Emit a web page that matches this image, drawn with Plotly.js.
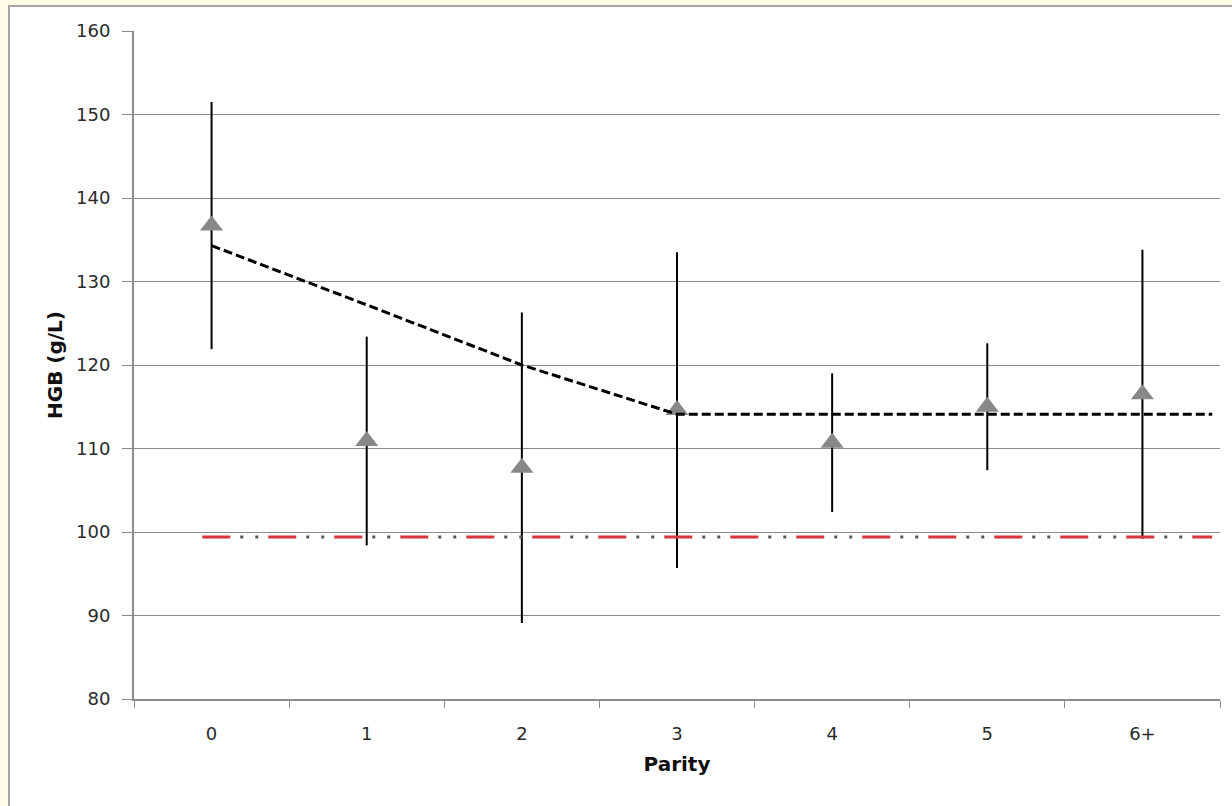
<!DOCTYPE html>
<html>
<head>
<meta charset="utf-8">
<script src="https://cdn.plot.ly/plotly-3.0.1.min.js"></script>
<style>html,body{margin:0;padding:0;background:#fdfde8;}#chart{width:1232px;height:806px;}</style>
</head>
<body>
<div id="chart"></div>
<script>
// ---- data ----
const categories = ['0', '1', '2', '3', '4', '5', '6+'];
const meanHGB = [136.7, 110.9, 107.7, 114.6, 110.7, 115.0, 116.5];
const errHGB = [14.8, 12.5, 18.6, 18.9, 8.3, 7.6, 17.3];

// fitted trend (dashed black): values at parity positions, then flat to the edge
const trendX = [0, 1, 2, 3, 6.45];
const trendY = [134.3, 127.2, 120.0, 114.1, 114.1];

// anaemia threshold (red dash-dot-dot)
const refX = [-0.06, 6.45];
const refY = [99.4, 99.4];

const yTicks = [80, 90, 100, 110, 120, 130, 140, 150, 160];

// ---- build ----
const xIdx = categories.map((c, i) => i);
const boundaries = categories.map((c, i) => i - 0.5).concat([categories.length - 0.5]);

const font = 'DejaVu Sans, Verdana, sans-serif';

const traces = [
  {
    x: xIdx, y: meanHGB, type: 'scatter', mode: 'markers',
    marker: {size: 1, opacity: 0},
    error_y: {type: 'data', array: errHGB, visible: true, color: '#000000', thickness: 2, width: 0},
    hoverinfo: 'skip'
  },
  {
    x: refX, y: refY, type: 'scatter', mode: 'lines',
    line: {color: '#d9353b', width: 3, dash: '28px,38px'},
    hoverinfo: 'skip'
  },
  {
    x: refX, y: refY, type: 'scatter', mode: 'lines',
    line: {color: '#555555', width: 3, dash: '0px,38px,3px,12px,3px,10px'},
    hoverinfo: 'skip'
  },
  {
    x: xIdx, y: meanHGB, type: 'scatter', mode: 'markers',
    marker: {symbol: 'triangle-up', size: 20, color: '#888888'}
  },
  {
    x: trendX, y: trendY, type: 'scatter', mode: 'lines',
    line: {color: '#000000', width: 3, dash: '9px,4px'},
    hoverinfo: 'skip'
  }
];

const layout = {
  width: 1232, height: 806,
  paper_bgcolor: '#fdfde8',
  plot_bgcolor: '#ffffff',
  showlegend: false,
  margin: {l: 134, r: 12, t: 31, b: 107, pad: 0},
  font: {family: font, size: 18, color: '#2a2a2a'},
  xaxis: {
    range: [-0.5, 6.5],
    tickmode: 'array', tickvals: xIdx, ticktext: categories,
    ticks: '', showgrid: false, zeroline: false,
    showline: true, linecolor: '#8c8c8c', linewidth: 2,
    ticklabelstandoff: 17,
    tickfont: {family: font, size: 18, color: '#2a2a2a'},
    minor: {tickmode: 'array', tickvals: boundaries, ticks: 'outside', ticklen: 7, tickcolor: '#8c8c8c', tickwidth: 1, showgrid: false},
    title: {text: 'Parity', font: {family: font, size: 20, weight: 'bold', color: '#111111'}, standoff: 14}
  },
  yaxis: {
    range: [80, 160],
    tickmode: 'array', tickvals: yTicks,
    ticks: 'outside', ticklen: 10, tickcolor: '#8c8c8c', tickwidth: 1,
    showgrid: true, gridcolor: '#8c8c8c', gridwidth: 1,
    zeroline: false, showline: true, linecolor: '#8c8c8c', linewidth: 2,
    ticklabelstandoff: 8,
    tickfont: {family: font, size: 18, color: '#2a2a2a'},
    title: {text: 'HGB (g/L)', font: {family: font, size: 20, weight: 'bold', color: '#111111'}, standoff: 8}
  },
  shapes: [
    {type: 'rect', xref: 'paper', yref: 'paper', layer: 'below',
     x0: (9 - 134) / 1086, x1: (1240 - 134) / 1086,
     y0: (699 - 812) / 668, y1: (699 - 6) / 668,
     fillcolor: '#ffffff', line: {color: '#a5a5a5', width: 2}}
  ]
};

Plotly.newPlot('chart', traces, layout, {displayModeBar: false, staticPlot: true});
</script>
</body>
</html>
